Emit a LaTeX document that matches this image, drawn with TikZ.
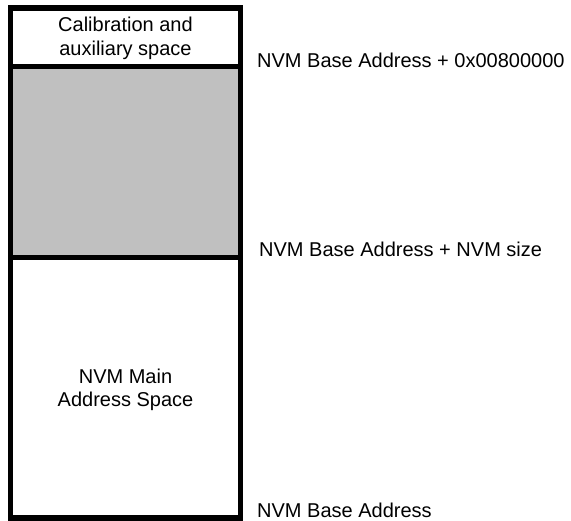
\documentclass[tikz,border=0pt]{standalone}
\usepackage{fontspec}
\setmainfont{Liberation Sans}
\begin{document}
\begin{tikzpicture}[x=1pt,y=-1pt,
  region/.style={draw=black,line width=5.5pt,inner sep=0pt,minimum width=230pt},
  boxtext/.style={align=center,inner sep=0pt,font=\fontsize{20}{23.5}\selectfont},
  addr/.style={anchor=base west,inner sep=0pt,font=\fontsize{20}{24}\selectfont}]
\useasboundingbox (0,0) rectangle (571,521);
\path[fill=white] (0,0) rectangle (571,521);
% regions
\node[region,minimum height=58.5pt] (cal) at (125.5,37.25) {};
\node[region,fill={rgb,255:red,192;green,192;blue,192},minimum height=191pt] (gap) at (125.5,162) {};
\node[region,minimum height=260.5pt] (main) at (125.5,387.75) {};
% texts
\node[boxtext] (caltext) at (cal.center) [yshift=-1pt] {Calibration and\\auxiliary space};
\node[boxtext] (maintext) at (125.5,390) {NVM Main\\Address Space};
% address labels
\node[addr] (a1) at (257,68) {NVM Base Address + 0x00800000};
\node[addr] (a2) at (259,257) {NVM Base Address + NVM size};
\node[addr] (a3) at (257,517.5) {NVM Base Address};
\end{tikzpicture}
\end{document}
